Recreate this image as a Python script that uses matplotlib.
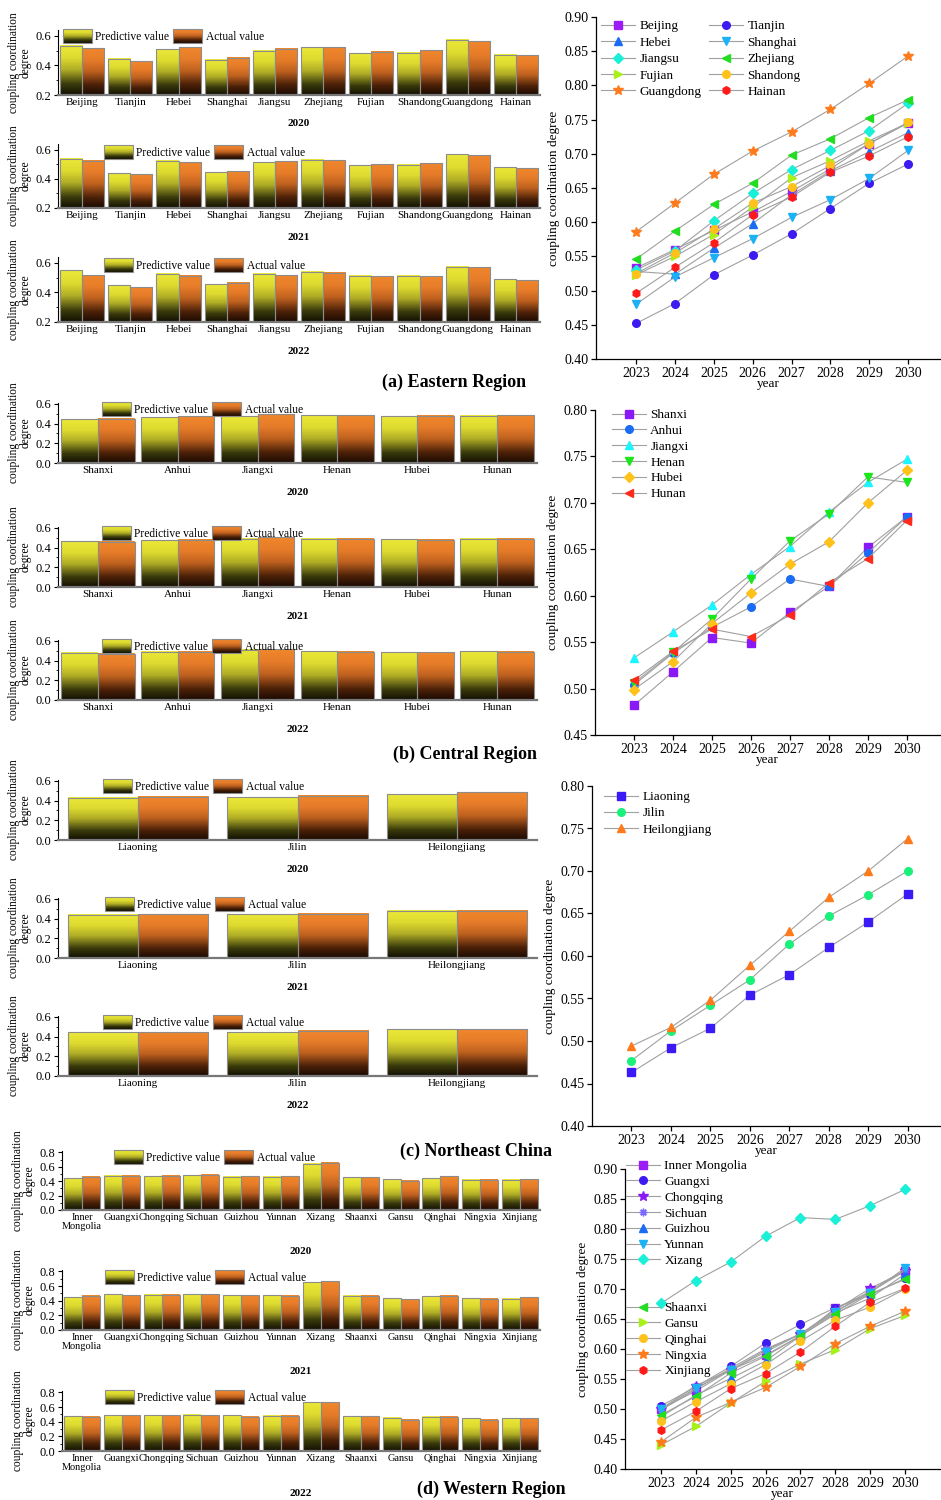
import numpy as np
import matplotlib
matplotlib.use("Agg")
import matplotlib.pyplot as plt
from matplotlib.colors import LinearSegmentedColormap
from matplotlib.patches import Rectangle
from matplotlib.legend_handler import HandlerBase
from matplotlib.image import BboxImage
from matplotlib.transforms import Bbox, TransformedBbox
from matplotlib.ticker import MultipleLocator

plt.rcParams['font.family'] = ['Liberation Serif', 'DejaVu Serif']

W, H = 941, 1500

# ---------------- data: bar charts (predictive vs actual, 2020-2022) ----------------
bar_years = ['2020', '2021', '2022']

east_names = ['Beijing', 'Tianjin', 'Hebei', 'Shanghai', 'Jiangsu', 'Zhejiang',
              'Fujian', 'Shandong', 'Guangdong', 'Hainan']
east_pred = [[0.535, 0.445, 0.508, 0.438, 0.498, 0.522, 0.483, 0.485, 0.575, 0.472],
             [0.540, 0.440, 0.525, 0.447, 0.513, 0.532, 0.494, 0.497, 0.570, 0.480],
             [0.550, 0.450, 0.528, 0.455, 0.525, 0.540, 0.512, 0.512, 0.573, 0.488]]
east_act = [[0.517, 0.428, 0.522, 0.452, 0.512, 0.524, 0.494, 0.503, 0.563, 0.470],
            [0.525, 0.432, 0.513, 0.453, 0.520, 0.528, 0.500, 0.507, 0.564, 0.475],
            [0.518, 0.436, 0.512, 0.465, 0.515, 0.532, 0.508, 0.508, 0.572, 0.482]]

cent_names = ['Shanxi', 'Anhui', 'Jiangxi', 'Henan', 'Hubei', 'Hunan']
cent_pred = [[0.445, 0.465, 0.477, 0.483, 0.475, 0.478],
             [0.465, 0.475, 0.493, 0.490, 0.485, 0.490],
             [0.482, 0.490, 0.512, 0.498, 0.488, 0.497]]
cent_act = [[0.450, 0.475, 0.497, 0.487, 0.478, 0.488],
            [0.460, 0.478, 0.505, 0.490, 0.478, 0.490],
            [0.468, 0.490, 0.517, 0.490, 0.485, 0.492]]

ne_names = ['Liaoning', 'Jilin', 'Heilongjiang']
ne_pred = [[0.430, 0.435, 0.465],
           [0.440, 0.443, 0.478],
           [0.445, 0.447, 0.477]]
ne_act = [[0.442, 0.448, 0.487],
          [0.445, 0.452, 0.478],
          [0.447, 0.458, 0.477]]

west_names = ['Inner\nMongolia', 'Guangxi', 'Chongqing', 'Sichuan', 'Guizhou', 'Yunnan',
              'Xizang', 'Shaanxi', 'Gansu', 'Qinghai', 'Ningxia', 'Xinjiang']
west_pred = [[0.440, 0.475, 0.470, 0.483, 0.465, 0.465, 0.645, 0.455, 0.427, 0.442, 0.418, 0.418],
             [0.450, 0.490, 0.480, 0.490, 0.475, 0.475, 0.655, 0.465, 0.437, 0.462, 0.437, 0.430],
             [0.472, 0.490, 0.490, 0.492, 0.490, 0.483, 0.665, 0.478, 0.452, 0.465, 0.448, 0.448]]
west_act = [[0.460, 0.475, 0.478, 0.492, 0.468, 0.468, 0.660, 0.457, 0.410, 0.468, 0.418, 0.427],
            [0.470, 0.475, 0.483, 0.488, 0.478, 0.470, 0.663, 0.470, 0.418, 0.467, 0.425, 0.445],
            [0.468, 0.490, 0.488, 0.488, 0.468, 0.485, 0.665, 0.478, 0.425, 0.467, 0.430, 0.450]]

# ---------------- data: forecast lines 2023-2030 ----------------
fc_years = [2023, 2024, 2025, 2026, 2027, 2028, 2029, 2030]

east_fc = [[0.533, 0.560, 0.588, 0.615, 0.645, 0.678, 0.715, 0.745],   # Beijing
           [0.452, 0.481, 0.523, 0.552, 0.583, 0.620, 0.657, 0.685],   # Tianjin
           [0.528, 0.524, 0.562, 0.598, 0.640, 0.675, 0.703, 0.731],   # Hebei
           [0.480, 0.520, 0.548, 0.576, 0.607, 0.633, 0.664, 0.705],   # Shanghai
           [0.530, 0.558, 0.602, 0.642, 0.677, 0.705, 0.734, 0.774],   # Jiangsu
           [0.546, 0.587, 0.626, 0.657, 0.698, 0.722, 0.753, 0.779],   # Zhejiang
           [0.523, 0.550, 0.582, 0.622, 0.665, 0.690, 0.719, 0.745],   # Fujian
           [0.525, 0.555, 0.590, 0.628, 0.652, 0.683, 0.715, 0.746],   # Shandong
           [0.586, 0.628, 0.670, 0.704, 0.732, 0.765, 0.803, 0.843],   # Guangdong
           [0.496, 0.534, 0.570, 0.611, 0.637, 0.673, 0.697, 0.725]]   # Hainan

cent_fc = [[0.482, 0.518, 0.555, 0.549, 0.582, 0.610, 0.652, 0.685],   # Shanxi
           [0.504, 0.538, 0.566, 0.588, 0.618, 0.610, 0.646, 0.685],   # Anhui
           [0.533, 0.561, 0.590, 0.623, 0.653, 0.690, 0.722, 0.747],   # Jiangxi
           [0.506, 0.539, 0.575, 0.618, 0.659, 0.688, 0.728, 0.722],   # Henan
           [0.499, 0.529, 0.570, 0.603, 0.634, 0.658, 0.700, 0.735],   # Hubei
           [0.509, 0.540, 0.564, 0.556, 0.579, 0.614, 0.640, 0.681]]   # Hunan

ne_fc = [[0.463, 0.492, 0.515, 0.554, 0.578, 0.610, 0.640, 0.673],     # Liaoning
         [0.477, 0.512, 0.542, 0.572, 0.614, 0.647, 0.672, 0.700],     # Jilin
         [0.494, 0.516, 0.548, 0.589, 0.629, 0.669, 0.700, 0.738]]     # Heilongjiang

west_fc = [[0.500, 0.530, 0.565, 0.590, 0.622, 0.668, 0.695, 0.730],   # Inner Mongolia
           [0.505, 0.537, 0.571, 0.610, 0.641, 0.669, 0.690, 0.718],   # Guangxi
           [0.500, 0.539, 0.565, 0.598, 0.625, 0.665, 0.701, 0.730],   # Chongqing
           [0.498, 0.533, 0.568, 0.600, 0.625, 0.662, 0.697, 0.732],   # Sichuan
           [0.487, 0.523, 0.551, 0.580, 0.622, 0.660, 0.685, 0.725],   # Guizhou
           [0.500, 0.535, 0.565, 0.595, 0.625, 0.662, 0.694, 0.735],   # Yunnan
           [0.676, 0.714, 0.745, 0.788, 0.819, 0.816, 0.839, 0.866],   # Xizang
           [0.490, 0.521, 0.560, 0.588, 0.622, 0.658, 0.692, 0.716],   # Shaanxi
           [0.440, 0.471, 0.510, 0.546, 0.575, 0.599, 0.634, 0.656],   # Gansu
           [0.480, 0.512, 0.542, 0.574, 0.613, 0.648, 0.670, 0.700],   # Qinghai
           [0.445, 0.486, 0.511, 0.536, 0.571, 0.609, 0.638, 0.663],   # Ningxia
           [0.465, 0.496, 0.534, 0.559, 0.595, 0.638, 0.678, 0.701]]   # Xinjiang

east_lnames = ['Beijing', 'Tianjin', 'Hebei', 'Shanghai', 'Jiangsu', 'Zhejiang',
               'Fujian', 'Shandong', 'Guangdong', 'Hainan']
west_lnames = ['Inner Mongolia', 'Guangxi', 'Chongqing', 'Sichuan', 'Guizhou', 'Yunnan',
               'Xizang', 'Shaanxi', 'Gansu', 'Qinghai', 'Ningxia', 'Xinjiang']

# marker styles / colours (Origin-like)
east_mk = ['s', 'o', '^', 'v', 'D', '<', '>', 'o', '*', 'h']
east_col = ['#9b1cf5', '#3c1af0', '#1a6cf5', '#1ab2f5', '#1af0d8', '#22dd22',
            '#a8f01a', '#ffc21a', '#ff7a1a', '#ff1a1a']
cent_mk = ['s', 'o', '^', 'v', 'D', '<']
cent_col = ['#8a1af5', '#1a6cf5', '#1af5ff', '#1ae61a', '#ffc21a', '#ff2a1a']
ne_mk = ['s', 'o', '^']
ne_col = ['#3a1af5', '#1af07a', '#ff7a1a']
west_mk = ['s', 'o', '*', (8, 2, 0), '^', 'v', 'D', '<', '>', 'o', '*', 'h']
west_col = ['#9b1cf5', '#3c1af0', '#8a1af5', '#7a6aff', '#1a6cf5', '#1ab2f5',
            '#1af0d8', '#22dd22', '#a8f01a', '#ffc21a', '#ff7a1a', '#ff1a1a']

cmap_y = LinearSegmentedColormap.from_list(
    'yel', [(0, '#120f02'), (0.22, '#3a3b0c'), (0.5, '#aeab26'), (0.75, '#dedb30'), (1, '#ebe838')])
cmap_o = LinearSegmentedColormap.from_list(
    'org', [(0, '#1a0a02'), (0.22, '#4c2108'), (0.5, '#bd601f'), (0.75, '#e67c29'), (1, '#f0872c')])
grad = np.linspace(0, 1, 128).reshape(-1, 1)


class GradHandler(HandlerBase):
    def __init__(self, cmap):
        super().__init__()
        self.cmap = cmap

    def create_artists(self, legend, orig_handle, xdescent, ydescent,
                       width, height, fontsize, trans):
        bb = Bbox.from_bounds(-xdescent, -ydescent, width, height)
        img = BboxImage(TransformedBbox(bb, trans), cmap=self.cmap,
                        interpolation='bilinear', origin='lower')
        img.set_data(grad)
        edge = Rectangle((-xdescent, -ydescent), width, height, fill=False,
                         edgecolor='#8c8c8c', lw=0.8, transform=trans)
        return [img, edge]


fig = plt.figure(figsize=(W / 100, H / 100), dpi=100)


def px_axes(x0, y0, x1, y1):
    return fig.add_axes([x0 / W, 1 - y1 / H, (x1 - x0) / W, (y1 - y0) / H])


def bar_panel(box, names, pred, act, year, ylim, ystep, leg_xy, year_y, width, lab_fs=8):
    ax = px_axes(*box)
    x = np.arange(len(names))
    for vals, cmap, off in ((pred, cmap_y, -width / 2), (act, cmap_o, width / 2)):
        for xi, v in zip(x, vals):
            x0 = xi + off - width / 2
            ax.imshow(grad, extent=[x0, x0 + width, ylim[0], v], aspect='auto',
                      cmap=cmap, origin='lower', interpolation='bilinear', zorder=2)
        ax.bar(x + off, vals, width, fill=False, edgecolor='#8c8c8c',
               linewidth=0.8, zorder=3)
    ax.set_xlim(-0.5, len(names) - 0.5)
    ax.set_ylim(*ylim)
    ax.set_xticks(x)
    ax.set_xticklabels(names, fontsize=lab_fs, linespacing=1.0)
    ax.yaxis.set_major_locator(MultipleLocator(ystep))
    ax.yaxis.set_minor_locator(MultipleLocator(ystep / 2))
    ax.yaxis.set_major_formatter(matplotlib.ticker.FormatStrFormatter('%.1f'))
    ax.tick_params(axis='x', length=0, pad=2)
    ax.tick_params(axis='y', which='major', direction='out', length=3, labelsize=9, pad=1.5, width=0.8)
    ax.tick_params(axis='y', which='minor', direction='out', length=1.8, width=0.6)
    for s in ('top', 'right'):
        ax.spines[s].set_visible(False)
    ax.spines['left'].set_linewidth(0.8)
    ax.spines['bottom'].set_color('#777777')
    ax.spines['bottom'].set_linewidth(1.6)
    ax.set_ylabel('coupling coordination\ndegree', fontsize=8.3, linespacing=0.95, labelpad=3)
    h1 = Rectangle((0, 0), 1, 1)
    h2 = Rectangle((0, 0), 1, 1)
    leg = ax.legend([h1, h2], ['Predictive value', 'Actual value'],
                    handler_map={h1: GradHandler(cmap_y), h2: GradHandler(cmap_o)},
                    loc='upper left', bbox_to_anchor=(leg_xy[0] / W, 1 - leg_xy[1] / H),
                    bbox_transform=fig.transFigure, ncol=2, frameon=False, fontsize=8.3,
                    handlelength=2.5, handleheight=1.45, handletextpad=0.3,
                    columnspacing=0.35, borderpad=0, borderaxespad=0)
    leg.set_zorder(5)
    fig.text((box[0] + box[2]) / 2 / W, 1 - year_y / H, year, ha='center', va='center',
             fontsize=8, fontweight='bold')
    return ax


def line_panel(box, names, series, marks, cols, ylim, xlim, legends):
    ax = px_axes(*box)
    handles = []
    for name, vals, m, c in zip(names, series, marks, cols):
        ms = 5 if m == 'D' else (7 if m == '*' else 5.5)
        h, = ax.plot(fc_years, vals, color='#a0a0a0', lw=0.8, marker=m, ms=ms,
                     mfc=c, mec=c, mew=1.0, label=name, zorder=3)
        handles.append(h)
    ax.set_xlim(*xlim)
    ax.set_ylim(*ylim)
    ax.set_xticks(fc_years)
    ax.yaxis.set_major_locator(MultipleLocator(0.05))
    ax.yaxis.set_major_formatter(matplotlib.ticker.FormatStrFormatter('%.2f'))
    ax.tick_params(direction='out', length=3.5, width=0.9, labelsize=10, pad=2)
    for s in ('top', 'right'):
        ax.spines[s].set_visible(False)
    ax.spines['left'].set_linewidth(0.9)
    ax.spines['bottom'].set_linewidth(0.9)
    ax.set_xlabel('year', fontsize=9.5, labelpad=-1)
    ax.set_ylabel('coupling coordination degree', fontsize=9.5, labelpad=3)
    for i, (order, xy, ncol, sp) in enumerate(legends):
        leg = ax.legend([handles[k] for k in order], [names[k] for k in order],
                        loc='upper left', bbox_to_anchor=(xy[0] / W, 1 - xy[1] / H),
                        bbox_transform=fig.transFigure, ncol=ncol, frameon=False,
                        fontsize=9.5, handlelength=2.6, handletextpad=0.3,
                        labelspacing=sp, columnspacing=0.6, borderpad=0, borderaxespad=0)
        if i < len(legends) - 1:
            ax.add_artist(leg)
    return ax


# ---------------- (a) Eastern ----------------
e_boxes = [(58, 30, 540, 95), (58, 144, 540, 208), (58, 257, 540, 322)]
e_leg = [(63, 29), (104, 145), (104, 258)]
e_year = [124, 238, 351]
for i in range(3):
    bar_panel(e_boxes[i], east_names, east_pred[i], east_act[i], bar_years[i],
              (0.2, 0.64), 0.2, e_leg[i], e_year[i], 0.46)
# legend reads row-wise in two columns
line_panel((596, 17, 940, 359), east_lnames, east_fc, east_mk, east_col,
           (0.40, 0.90), (2021.97, 2030.82),
           [([0, 2, 4, 6, 8, 1, 3, 5, 7, 9], (601, 20), 2, 0.32)])
fig.text(454 / W, 1 - 382 / H, '(a) Eastern Region', ha='center', va='center',
         fontsize=13, fontweight='bold')

# ---------------- (b) Central ----------------
c_boxes = [(58, 403, 537, 463), (58, 527, 537, 587), (58, 640, 537, 700)]
c_leg = [(102, 402), (102, 526), (102, 639)]
c_year = [492, 616, 730]
for i in range(3):
    bar_panel(c_boxes[i], cent_names, cent_pred[i], cent_act[i], bar_years[i],
              (0.0, 0.61), 0.2, c_leg[i], c_year[i], 0.46)
line_panel((595, 410, 940, 735), cent_names, cent_fc, cent_mk, cent_col,
           (0.45, 0.80), (2022.0, 2030.85), [(range(6), (612, 409), 1, 0.27)])
fig.text(465 / W, 1 - 754 / H, '(b) Central Region', ha='center', va='center',
         fontsize=13, fontweight='bold')

# ---------------- (c) Northeast ----------------
n_boxes = [(58, 780, 537, 840), (58, 898, 537, 958), (58, 1016, 537, 1076)]
n_leg = [(103, 779), (105, 897), (103, 1015)]
n_year = [869, 988, 1105]
for i in range(3):
    bar_panel(n_boxes[i], ne_names, ne_pred[i], ne_act[i], bar_years[i],
              (0.0, 0.61), 0.2, n_leg[i], n_year[i], 0.44)
line_panel((592, 786, 940, 1126), ne_names, ne_fc, ne_mk, ne_col,
           (0.40, 0.80), (2022.0, 2030.82), [(range(3), (604, 791), 1, 0.3)])
fig.text(476 / W, 1 - 1151 / H, '(c) Northeast China', ha='center', va='center',
         fontsize=13, fontweight='bold')

# ---------------- (d) Western ----------------
w_boxes = [(62, 1151, 540, 1210), (62, 1270, 540, 1330), (62, 1391, 540, 1451)]
w_leg = [(114, 1150), (105, 1270), (105, 1390)]
w_year = [1252, 1372, 1494]
for i in range(3):
    bar_panel(w_boxes[i], west_names, west_pred[i], west_act[i], bar_years[i],
              (0.0, 0.82), 0.2, w_leg[i], w_year[i], 0.45, lab_fs=7.4)
line_panel((625, 1169, 940, 1469), west_lnames, west_fc, west_mk, west_col,
           (0.40, 0.90), (2021.97, 2031.0),
           [(range(7), (626, 1160), 1, 0.27), (range(7, 12), (626, 1302), 1, 0.27)])
fig.text(491 / W, 1 - 1489 / H, '(d) Western Region', ha='center', va='center',
         fontsize=13, fontweight='bold')

fig.savefig('out.png', dpi=100)
